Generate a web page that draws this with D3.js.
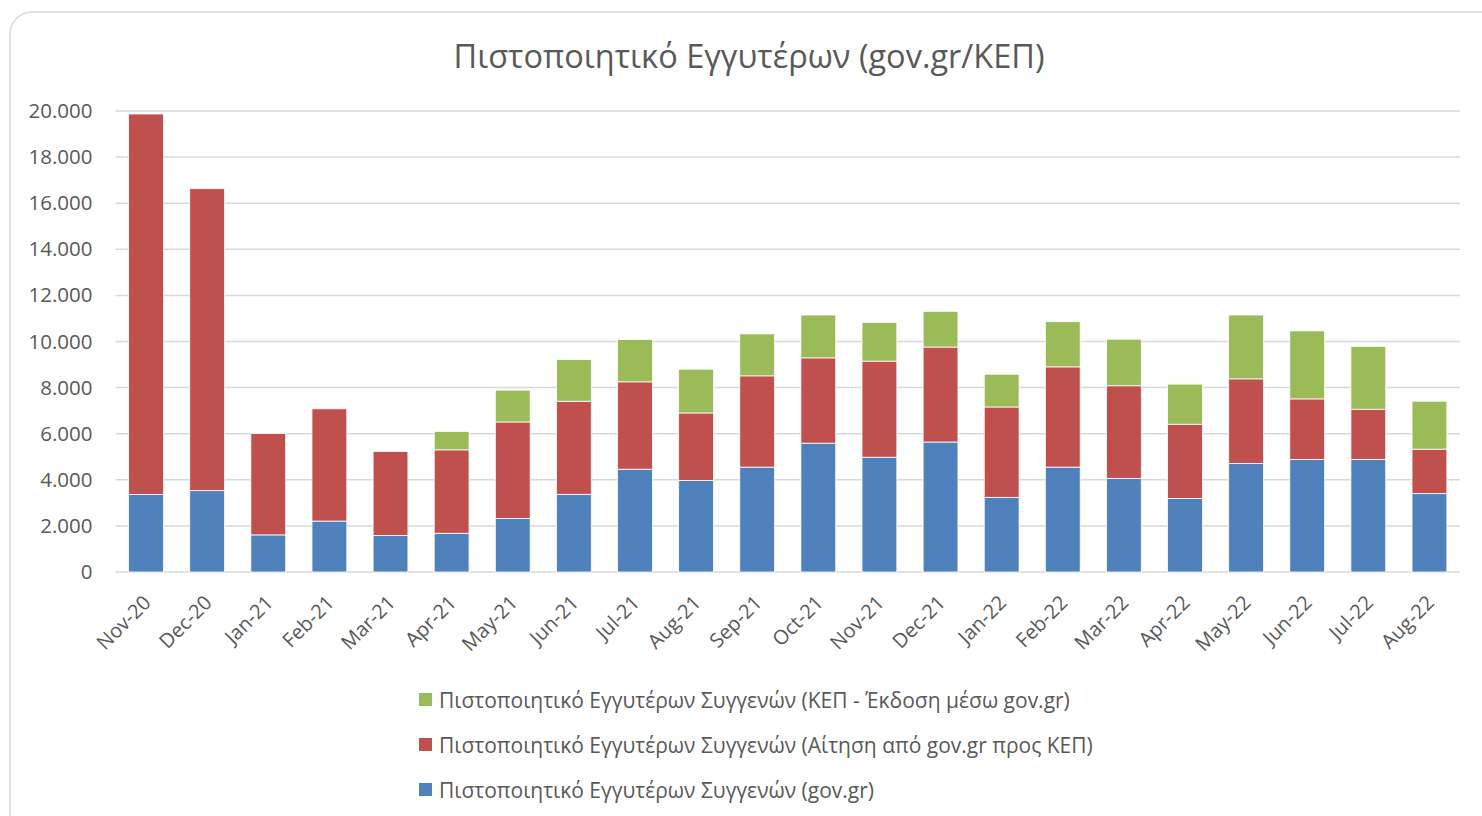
<!DOCTYPE html>
<html>
<head>
<meta charset="utf-8">
<script src="https://cdn.jsdelivr.net/npm/d3@7"></script>
<style>
    body { margin: 0; background: #fff; }
    text { font-family: "Open Sans", "Noto Sans", sans-serif; }
</style>
</head>
<body>
<script>
const months = ['Nov-20', 'Dec-20', 'Jan-21', 'Feb-21', 'Mar-21', 'Apr-21', 'May-21', 'Jun-21', 'Jul-21', 'Aug-21', 'Sep-21',
    'Oct-21', 'Nov-21', 'Dec-21', 'Jan-22', 'Feb-22', 'Mar-22', 'Apr-22', 'May-22', 'Jun-22', 'Jul-22', 'Aug-22']

// gov.gr
const govgr = [3360, 3530, 1610, 2210, 1580, 1680, 2320, 3370, 4460, 3970, 4550,
    5590, 4980, 5640, 3240, 4550, 4060, 3190, 4710, 4880, 4880, 3400]
// request via gov.gr to KEP
const request = [16510, 13100, 4400, 4870, 3650, 3620, 4190, 4040, 3790, 2930, 3960,
    3700, 4170, 4120, 3920, 4350, 4020, 3220, 3670, 2630, 2180, 1930]
// KEP issue via gov.gr
const kep = [0, 0, 0, 0, 0, 800, 1380, 1810, 1840, 1900, 1820,
    1860, 1680, 1550, 1420, 1960, 2020, 1740, 2770, 2950, 2730, 2080]

const seriesNames = [
    'Πιστοποιητικό Εγγυτέρων Συγγενών (gov.gr)',
    'Πιστοποιητικό Εγγυτέρων Συγγενών (Αίτηση από gov.gr προς ΚΕΠ)',
    'Πιστοποιητικό Εγγυτέρων Συγγενών (ΚΕΠ - Έκδοση μέσω gov.gr)'
]
const colors = ['#4f81bd', '#c0504d', '#9bbb59']
const yTicks = [0, 2000, 4000, 6000, 8000, 10000, 12000, 14000, 16000, 18000, 20000]

const W = 1482, H = 816
const plot = { left: 115.5, right: 1460, top: 111, bottom: 572 }

const svg = d3.select('body').append('svg')
    .attr('width', W)
    .attr('height', H)

svg.append('rect')
    .attr('x', 10).attr('y', 12)
    .attr('width', 1500).attr('height', 840)
    .attr('rx', 22)
    .attr('fill', '#fff')
    .attr('stroke', '#d9d9d9')
    .attr('stroke-width', 1.5)

svg.append('text')
    .attr('x', 749).attr('y', 68)
    .attr('text-anchor', 'middle')
    .attr('font-size', 32.5)
    .attr('fill', '#595959')
    .text('Πιστοποιητικό Εγγυτέρων (gov.gr/ΚΕΠ)')

const rows = months.map((m, i) => ({ month: m, s0: govgr[i], s1: request[i], s2: kep[i] }))
const stacked = d3.stack().keys(['s0', 's1', 's2'])(rows)

const x = d3.scaleBand()
    .domain(months)
    .range([plot.left, plot.right])
    .paddingInner(0.43)
    .paddingOuter(0.215)

const y = d3.scaleLinear()
    .domain([0, 20000])
    .range([plot.bottom, plot.top])

const fmt = d => d3.format(',')(d).replace(/,/g, '.')

// gridlines
svg.append('g')
    .selectAll('line')
    .data(yTicks)
    .enter()
    .append('line')
    .attr('x1', plot.left)
    .attr('x2', plot.right)
    .attr('y1', d => y(d))
    .attr('y2', d => y(d))
    .attr('stroke', '#d9d9d9')
    .attr('stroke-width', 1.5)

// y axis labels
const yAxis = svg.append('g')
    .attr('transform', `translate(${plot.left - 23}, 0)`)
    .call(d3.axisLeft(y).tickValues(yTicks).tickFormat(fmt).tickSize(0).tickPadding(0))
yAxis.select('.domain').remove()
yAxis.selectAll('text')
    .attr('font-size', 20.5)
    .attr('fill', '#595959')
    .style('font-family', '"Open Sans", sans-serif')

// bars
svg.append('g')
    .selectAll('g')
    .data(stacked)
    .enter()
    .append('g')
    .attr('fill', (d, i) => colors[i])
    .selectAll('rect')
    .data(d => d)
    .enter()
    .append('rect')
    .attr('x', d => x(d.data.month))
    .attr('y', d => y(d[1]))
    .attr('width', x.bandwidth())
    .attr('height', d => y(d[0]) - y(d[1]))
    .attr('stroke', '#fff')
    .attr('stroke-width', 0.8)

// x axis labels
const xAxis = svg.append('g')
    .attr('transform', `translate(0, ${plot.bottom})`)
    .call(d3.axisBottom(x).tickSize(0).tickPadding(0))
xAxis.select('.domain').remove()
xAxis.selectAll('text')
    .attr('font-size', 20)
    .attr('fill', '#595959')
    .style('font-family', '"Open Sans", sans-serif')
    .attr('text-anchor', 'end')
    .attr('dy', 0)
    .attr('transform', 'translate(6, 32) rotate(-45)')

// legend (reverse order, green on top)
const legend = svg.append('g')
const legendItems = [2, 1, 0]
legendItems.forEach((s, k) => {
    const ly = 700 + k * 45
    legend.append('rect')
        .attr('x', 419).attr('y', ly - 7)
        .attr('width', 13).attr('height', 13)
        .attr('fill', colors[s])
    legend.append('text')
        .attr('x', 439).attr('y', ly + 7.5)
        .attr('font-size', 21)
        .attr('fill', '#595959')
        .text(seriesNames[s])
})
</script>
</body>
</html>
